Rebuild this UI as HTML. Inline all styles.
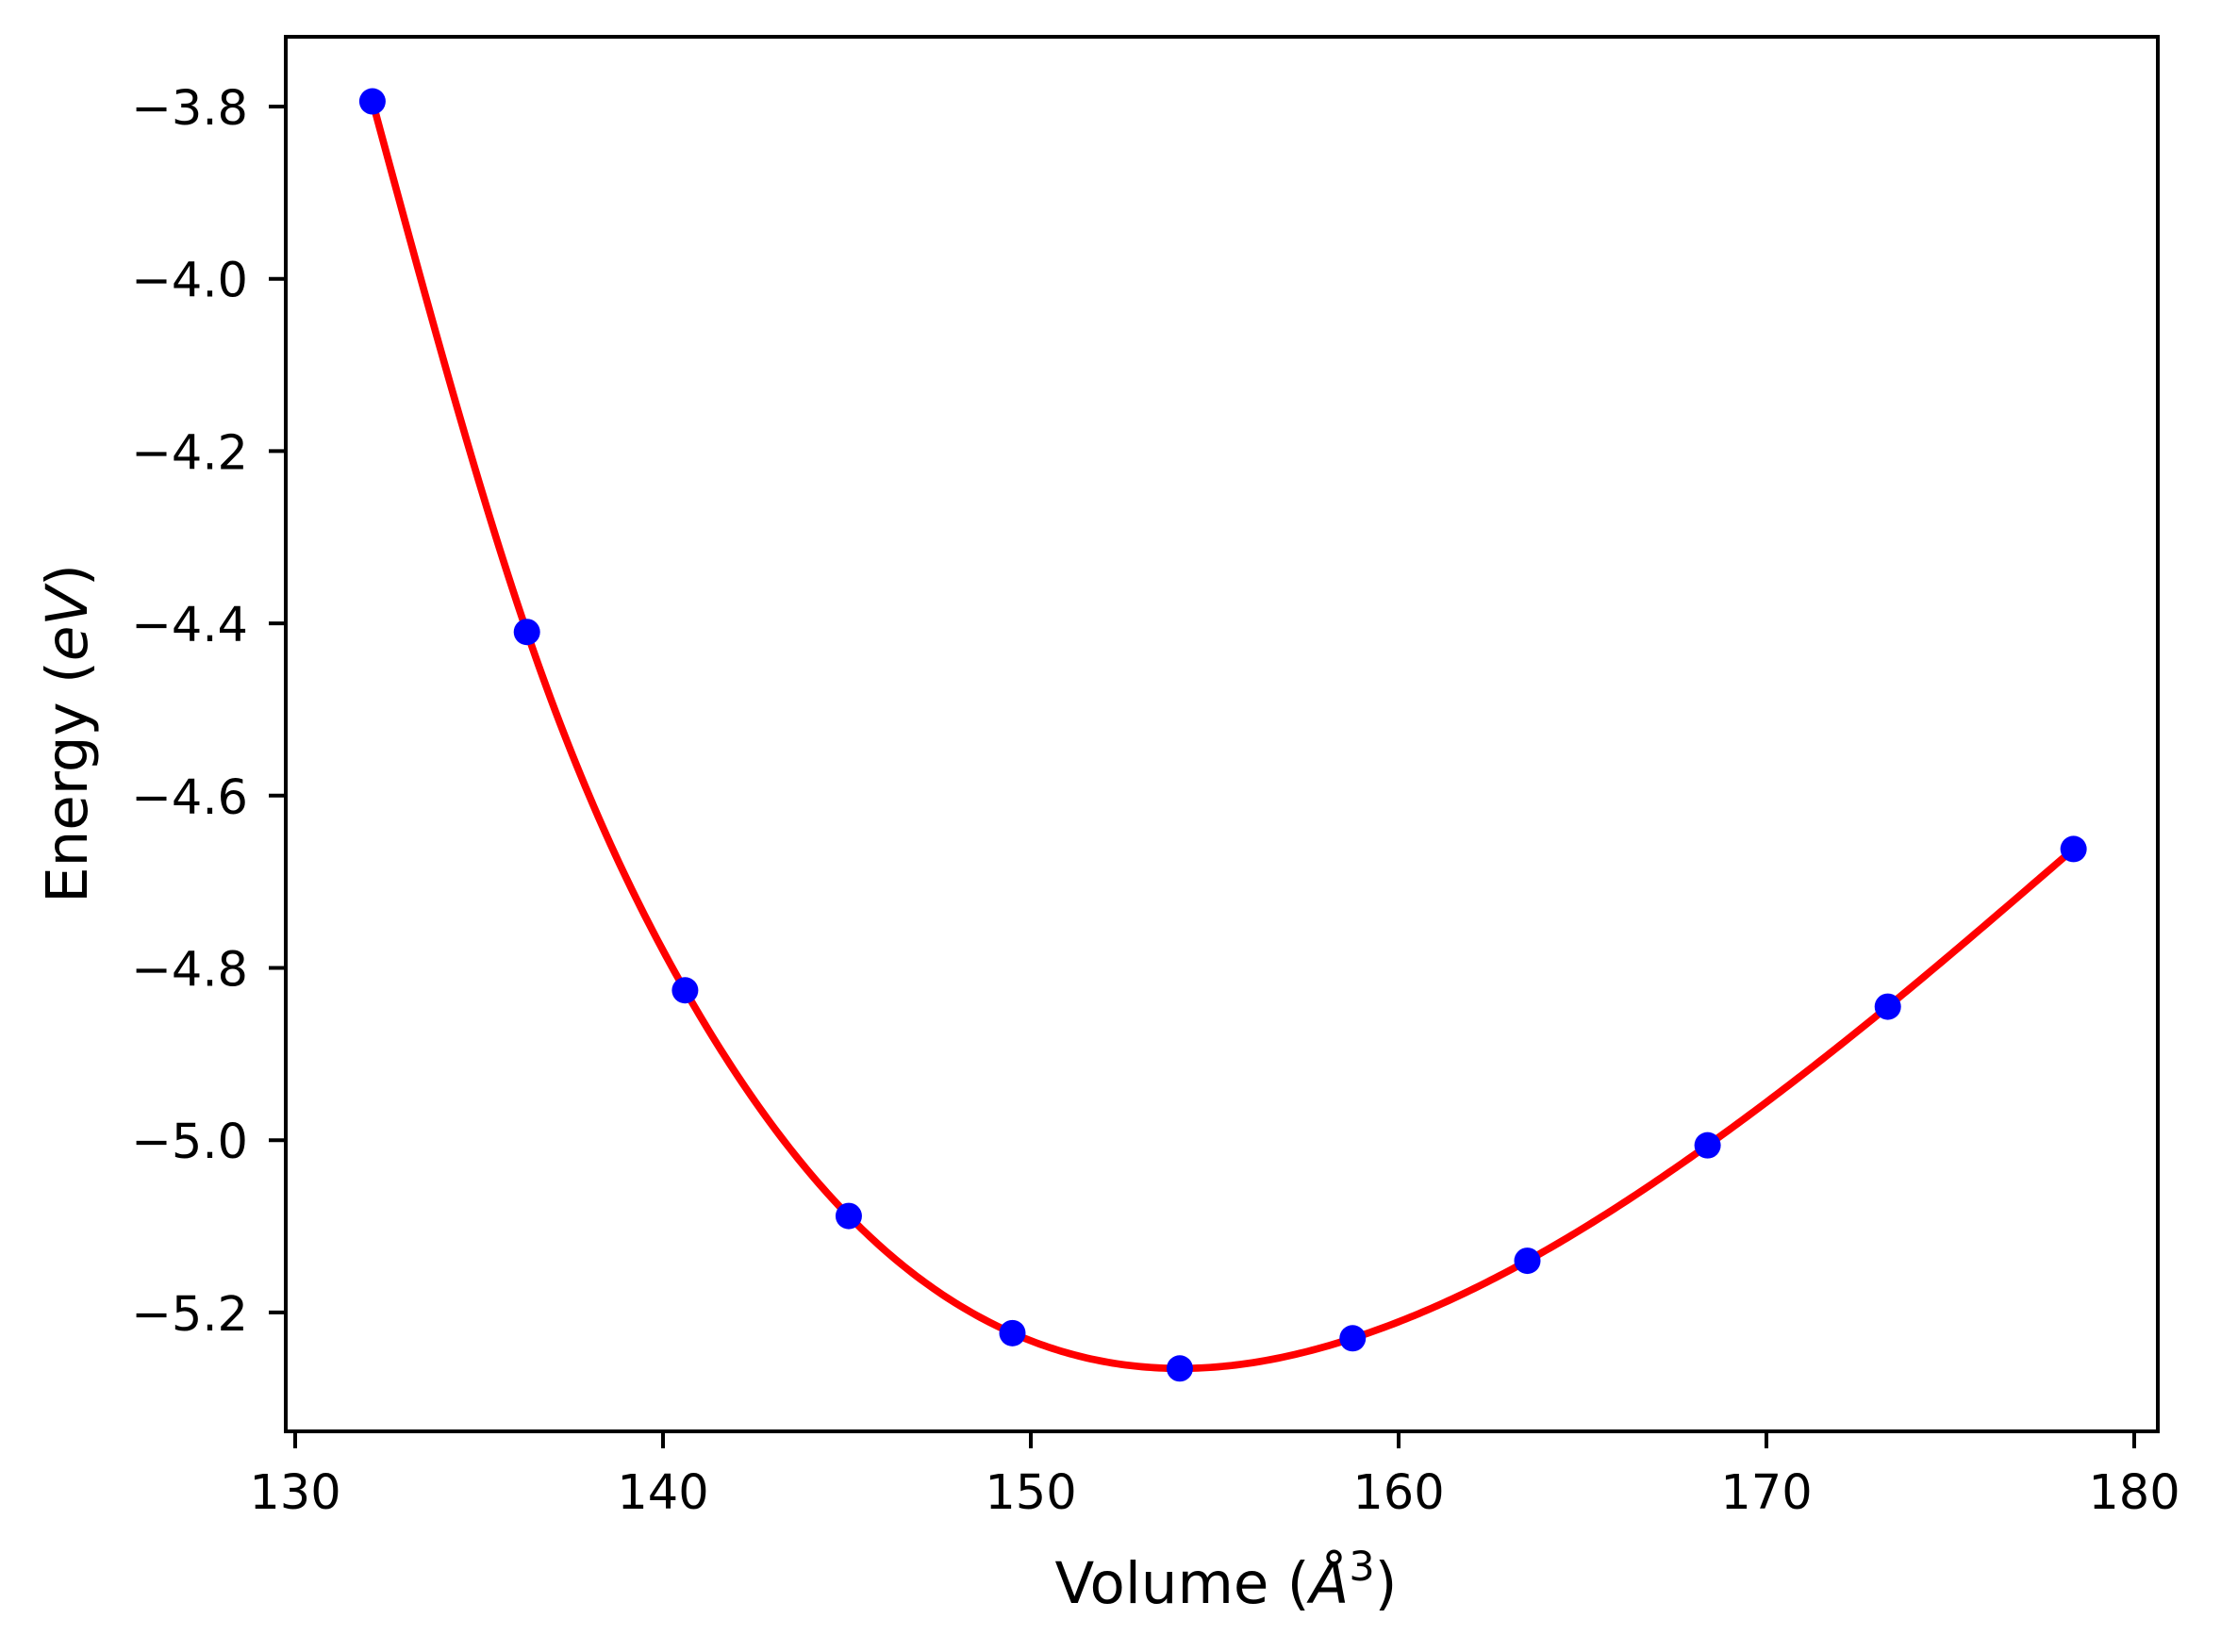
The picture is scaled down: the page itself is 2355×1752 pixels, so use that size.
<!DOCTYPE html>
<html><head><meta charset="utf-8"><style>
html,body{margin:0;padding:0;background:#fff;}
svg text{font-family:"DejaVu Sans","Liberation Sans",sans-serif;fill:#000;}
</style></head><body>
<svg id="chart" width="2355" height="1747" viewBox="0 0 2355 1747" xmlns="http://www.w3.org/2000/svg">
<rect x="0" y="0" width="2355" height="1747" fill="#fff"/>
<g id="plot"></g>
</svg>
<script>
const volumes = [132.1, 136.3, 140.6, 145.05, 149.5, 154.05, 158.75, 163.5, 168.4, 173.3, 178.35];
const energies = [-3.794, -4.410, -4.826, -5.088, -5.224, -5.265, -5.230, -5.140, -5.006, -4.845, -4.662];
const xTicks = [130, 140, 150, 160, 170, 180];
const yTicks = [-3.8, -4.0, -4.2, -4.4, -4.6, -4.8, -5.0, -5.2];

const NS = "http://www.w3.org/2000/svg";
const L = 303, R = 2288, T = 39, B = 1518;
function xs(v){ return 313 + (v - 130) * 39.0; }
function ys(v){ return 113 + (-3.8 - v) * 913.5; }
function mk(tag, attrs, parent){ const e = document.createElementNS(NS, tag); for (const k in attrs) e.setAttribute(k, attrs[k]); (parent||g).appendChild(e); return e; }
const g = document.getElementById('plot');

// natural cubic spline through data
function spline(x, y){
  const n = x.length, h = [], a = [], l = [1], mu = [0], z = [0], c = new Array(n).fill(0), b = [], d = [];
  for (let i=0;i<n-1;i++) h.push(x[i+1]-x[i]);
  for (let i=1;i<n-1;i++) a[i] = 3/h[i]*(y[i+1]-y[i]) - 3/h[i-1]*(y[i]-y[i-1]);
  for (let i=1;i<n-1;i++){ l[i]=2*(x[i+1]-x[i-1])-h[i-1]*mu[i-1]; mu[i]=h[i]/l[i]; z[i]=(a[i]-h[i-1]*z[i-1])/l[i]; }
  for (let j=n-2;j>=0;j--){ c[j]=(j<n-1? z[j]-mu[j]*c[j+1]:0); if(j===0) c[0]=0; b[j]=(y[j+1]-y[j])/h[j]-h[j]*(c[j+1]+2*c[j])/3; d[j]=(c[j+1]-c[j])/(3*h[j]); }
  return function(t){ let i=0; while(i<n-2 && t>x[i+1]) i++; const dx=t-x[i]; return y[i]+b[i]*dx+c[i]*dx*dx+d[i]*dx*dx*dx; };
}
const f = spline(volumes, energies);
let dstr = '';
const v0 = volumes[0], v1 = volumes[volumes.length-1];
for (let k=0;k<=400;k++){ const v = v0 + (v1-v0)*k/400; dstr += (k?'L':'M') + xs(v).toFixed(2) + ' ' + ys(f(v)).toFixed(2); }
const fit = mk('path', {d:dstr, fill:'none', stroke:'#ff0000', 'stroke-width':7.7, 'stroke-linejoin':'round'});



volumes.forEach((v,i)=>{
  const c = mk('circle', {cx:xs(v), cy:ys(energies[i]), r:14, fill:'#0000ff'});
  
  
});

const frame = mk('rect', {x:L, y:T, width:R-L, height:B-T, fill:'none', stroke:'#000', 'stroke-width':4});



xTicks.forEach(t=>{
  const x = xs(t);
  const tk = mk('line', {x1:x, y1:B, x2:x, y2:B+18, stroke:'#000', 'stroke-width':4});
  
  
  const tx = mk('text', {x:x, y:1600, 'font-size':51, 'text-anchor':'middle'});
  tx.textContent = String(t);
  
  
});
yTicks.forEach(t=>{
  const y = ys(t);
  const tk = mk('line', {x1:L-18, y1:y, x2:L, y2:y, stroke:'#000', 'stroke-width':4});
  
  
  const tx = mk('text', {x:263, y:y+19, 'font-size':51, 'text-anchor':'end'});
  tx.textContent = '\u2212' + Math.abs(t).toFixed(1);
  
  
});

const xl = mk('text', {x:1300, y:1700, 'font-size':61, 'text-anchor':'middle'});
xl.innerHTML = 'Volume (<tspan font-style="italic">Å</tspan><tspan font-size="43" dy="-24">3</tspan><tspan dy="24">)</tspan>';



const yl = mk('text', {x:0, y:0, 'font-size':61, 'text-anchor':'middle', transform:'translate(92,778) rotate(-90)'});
yl.innerHTML = 'Energy (<tspan font-style="italic">eV</tspan>)';


</script>
</body></html>
